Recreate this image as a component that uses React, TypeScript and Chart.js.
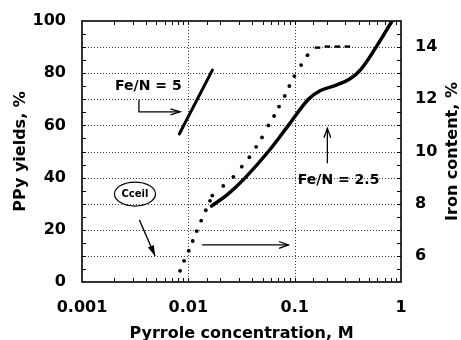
import React, { useEffect, useRef } from "react";
import { Chart, registerables } from "chart.js";

Chart.register(...registerables);

// ---------- data ----------
const xTickLabels = ["0.001", "0.01", "0.1", "1"];
const yLeftTickLabels = ["0", "20", "40", "60", "80", "100"];
const yRightTickLabels = ["6", "8", "10", "12", "14"];
const xGridValues = [0.01, 0.1];
const yGridValues = [10, 20, 30, 40, 50, 60, 70, 80, 90];

// Fe/N = 5 (PPy yield, %)
const feN5Conc = [0.00822, 0.01683];
const feN5Yield = [56.7, 81.2];

// Fe/N = 2.5 (PPy yield, %)
const feN25Conc = [0.0165, 0.0236, 0.0342, 0.0566, 0.0873, 0.1346, 0.1734, 0.249, 0.332, 0.42, 0.583, 0.824];
const feN25Yield = [29.1, 33.7, 39.9, 50.0, 60.0, 70.0, 73.3, 75.5, 77.9, 81.5, 90.0, 100.0];

// Iron content (%), dotted curve
const ironConc = [0.00836, 0.00912, 0.0101, 0.011, 0.012, 0.0132, 0.0146, 0.016, 0.0168, 0.0213, 0.0265, 0.0318, 0.0375, 0.0434, 0.0493, 0.0566, 0.064, 0.0713, 0.0807, 0.0891, 0.0993, 0.115, 0.132, 0.164, 0.203, 0.252, 0.313];
const ironContent = [5.43, 5.81, 6.2, 6.57, 6.95, 7.35, 7.75, 8.11, 8.31, 8.68, 9.03, 9.42, 9.78, 10.18, 10.54, 11.0, 11.36, 11.72, 12.13, 12.51, 12.89, 13.31, 13.69, 13.98, 14.02, 14.02, 14.02];

// ---------- annotations (in data units of x / left y) ----------
const labelFeN5 = { text: "Fe/N = 5", x: 0.00421, y: 74.8 };
const arrowFeN5 = [[0.00343, 69.7], [0.00343, 65.2], [0.00836, 65.2]];
const labelCceil = { text: "Cceil", x: 0.00315, y: 33.7 };
const arrowCceil = [[0.00346, 23.8], [0.00487, 10.0]];
const arrowIron = [[0.01346, 14.2], [0.0873, 14.2]];
const arrowFeN25 = [[0.203, 45.5], [0.203, 58.9]];
const labelFeN25 = { text: "Fe/N = 2.5", x: 0.259, y: 39.1 };

const xTitle = "Pyrrole concentration, M";
const yTitle = "PPy yields, %";
const y2Title = "Iron content, %";

const FAMILY = '"DejaVu Sans", sans-serif';

function drawArrow(ctx: CanvasRenderingContext2D, pts: number[][], filled: boolean, len = 10, half = 0.38) {
  ctx.beginPath();
  ctx.moveTo(pts[0][0], pts[0][1]);
  for (let i = 1; i < pts.length; i++) ctx.lineTo(pts[i][0], pts[i][1]);
  ctx.stroke();
  const [x1, y1] = pts[pts.length - 2];
  const [x2, y2] = pts[pts.length - 1];
  const ang = Math.atan2(y2 - y1, x2 - x1);
  const a1 = ang + Math.PI - half;
  const a2 = ang + Math.PI + half;
  ctx.beginPath();
  ctx.moveTo(x2 + len * Math.cos(a1), y2 + len * Math.sin(a1));
  ctx.lineTo(x2, y2);
  ctx.lineTo(x2 + len * Math.cos(a2), y2 + len * Math.sin(a2));
  if (filled) {
    ctx.closePath();
    ctx.fill();
  } else {
    ctx.stroke();
  }
}

const decor = {
  id: "decor",
  beforeDatasetsDraw(chart: any) {
    const { ctx, chartArea: a, scales } = chart;
    const x = scales.x;
    const y = scales.y;
    ctx.save();
    ctx.strokeStyle = "#3a3a3a";
    ctx.lineWidth = 1;
    ctx.setLineDash([1, 2]);
    for (const v of yGridValues) {
      const py = Math.round(y.getPixelForValue(v)) + 0.5;
      ctx.beginPath();
      ctx.moveTo(a.left, py);
      ctx.lineTo(a.right, py);
      ctx.stroke();
    }
    for (const v of xGridValues) {
      const px = Math.round(x.getPixelForValue(v)) + 0.5;
      ctx.beginPath();
      ctx.moveTo(px, a.top);
      ctx.lineTo(px, a.bottom);
      ctx.stroke();
    }
    ctx.restore();
  },
  afterDraw(chart: any) {
    const { ctx, chartArea: a, scales } = chart;
    const x = scales.x;
    const y = scales.y;
    const y2 = scales.y2;
    const P = (p: number[]) => [x.getPixelForValue(p[0]), y.getPixelForValue(p[1])];
    ctx.save();
    ctx.setLineDash([]);
    ctx.strokeStyle = "#000";
    ctx.fillStyle = "#000";

    // inward tick marks
    ctx.lineWidth = 1;
    for (const t of x.ticks) {
      const px = Math.round(x.getPixelForValue(t.value)) + 0.5;
      if (px <= a.left + 1 || px >= a.right - 1) continue;
      ctx.beginPath();
      ctx.moveTo(px, a.bottom);
      ctx.lineTo(px, a.bottom - 4);
      ctx.moveTo(px, a.top);
      ctx.lineTo(px, a.top + 4);
      ctx.stroke();
    }
    for (const t of y.ticks) {
      const py = Math.round(y.getPixelForValue(t.value)) + 0.5;
      if (py <= a.top + 1 || py >= a.bottom - 1) continue;
      ctx.beginPath();
      ctx.moveTo(a.left, py);
      ctx.lineTo(a.left + 4, py);
      ctx.stroke();
    }
    for (const t of y2.ticks) {
      const py = Math.round(y2.getPixelForValue(t.value)) + 0.5;
      if (py <= a.top + 1 || py >= a.bottom - 1) continue;
      ctx.beginPath();
      ctx.moveTo(a.right, py);
      ctx.lineTo(a.right - 4, py);
      ctx.stroke();
    }

    // frame
    ctx.lineWidth = 1.6;
    ctx.strokeRect(a.left, a.top, a.right - a.left, a.bottom - a.top);

    // axis titles
    ctx.font = `bold 16px ${FAMILY}`;
    ctx.textAlign = "center";
    ctx.textBaseline = "alphabetic";
    ctx.fillText(xTitle, (a.left + a.right) / 2, 338);
    ctx.save();
    ctx.translate(25, (a.top + a.bottom) / 2);
    ctx.rotate(-Math.PI / 2);
    ctx.fillText(yTitle, 0, 0);
    ctx.restore();
    ctx.save();
    ctx.translate(457, (a.top + a.bottom) / 2);
    ctx.rotate(-Math.PI / 2);
    ctx.fillText(y2Title, 0, 0);
    ctx.restore();

    // annotations
    ctx.font = `bold 14px ${FAMILY}`;
    ctx.textBaseline = "middle";
    let p = P([labelFeN5.x, labelFeN5.y]);
    ctx.fillText(labelFeN5.text, p[0], p[1]);
    p = P([labelFeN25.x, labelFeN25.y]);
    ctx.fillText(labelFeN25.text, p[0], p[1]);

    ctx.lineWidth = 1.3;
    drawArrow(ctx, arrowFeN5.map(P), false, 10, 0.3);
    drawArrow(ctx, arrowCceil.map(P), true, 11, 0.3);
    drawArrow(ctx, arrowIron.map(P), false, 10, 0.35);
    drawArrow(ctx, arrowFeN25.map(P), false, 10, 0.35);

    p = P([labelCceil.x, labelCceil.y]);
    ctx.lineWidth = 1.2;
    ctx.beginPath();
    ctx.ellipse(p[0], p[1], 20.5, 12, 0, 0, Math.PI * 2);
    ctx.stroke();
    ctx.font = `bold 10px ${FAMILY}`;
    ctx.fillText(labelCceil.text, p[0], p[1]);

    ctx.restore();
  },
};

export default function App() {
  const ref = useRef<HTMLCanvasElement>(null);

  useEffect(() => {
    const canvas = ref.current;
    if (!canvas) return;
    const nDots = ironConc.length;
    const dotStyle = ironConc.map((_, i) => (i >= nDots - 4 ? "line" : "circle"));
    const dotRadius = ironConc.map((_, i) => (i >= nDots - 4 ? 2.8 : 1.9));
    const dotBorder = ironConc.map((_, i) => (i >= nDots - 4 ? 2.4 : 0));

    const chart = new Chart(canvas, {
      type: "scatter",
      data: {
        datasets: [
          {
            label: "Fe/N = 5",
            data: feN5Conc.map((c, i) => ({ x: c, y: feN5Yield[i] })),
            showLine: true,
            borderColor: "#000",
            borderWidth: 3,
            pointRadius: 0,
            borderCapStyle: "round",
            yAxisID: "y",
          },
          {
            label: "Fe/N = 2.5",
            data: feN25Conc.map((c, i) => ({ x: c, y: feN25Yield[i] })),
            showLine: true,
            borderColor: "#000",
            borderWidth: 3.5,
            pointRadius: 0,
            tension: 0.4,
            borderCapStyle: "round",
            yAxisID: "y",
          },
          {
            label: "Iron content",
            data: ironConc.map((c, i) => ({ x: c, y: ironContent[i] })),
            showLine: false,
            pointStyle: dotStyle as any,
            pointRadius: dotRadius,
            pointBorderWidth: dotBorder,
            pointBackgroundColor: "#000",
            pointBorderColor: "#000",
            yAxisID: "y2",
          },
        ] as any,
      },
      options: {
        responsive: false,
        animation: false,
        devicePixelRatio: 1,
        layout: { padding: { top: 21, left: 0, right: 0, bottom: 0 } },
        plugins: { legend: { display: false }, tooltip: { enabled: false } },
        scales: {
          x: {
            type: "logarithmic",
            position: "bottom",
            min: 0.001,
            max: 1,
            grid: { display: false },
            border: { display: false },
            afterFit: (s: any) => {
              s.height = 58;
            },
            ticks: {
              autoSkip: false,
              maxRotation: 0,
              minRotation: 0,
              padding: 8,
              color: "#000",
              font: { family: FAMILY, size: 16, weight: "bold" },
              callback: (v: any) => {
                const m = xTickLabels.find((l) => Math.abs(Number(v) / parseFloat(l) - 1) < 1e-6);
                return m ?? "";
              },
            },
          },
          y: {
            type: "linear",
            position: "left",
            min: 0,
            max: 100,
            grid: { display: false },
            border: { display: false },
            afterFit: (s: any) => {
              s.width = 82;
            },
            ticks: {
              stepSize: 5,
              autoSkip: false,
              padding: 8,
              color: "#000",
              font: { family: FAMILY, size: 16, weight: "bold" },
              callback: (v: any) => (yLeftTickLabels.includes(String(v)) ? String(v) : ""),
            },
          },
          y2: {
            type: "linear",
            position: "right",
            min: 5,
            max: 15,
            grid: { display: false },
            border: { display: false },
            afterFit: (s: any) => {
              s.width = 60;
            },
            ticks: {
              stepSize: 0.5,
              autoSkip: false,
              padding: 6,
              color: "#000",
              font: { family: FAMILY, size: 16, weight: "bold" },
              callback: (v: any) => (yRightTickLabels.includes(String(v)) ? String(v) : ""),
            },
          },
        },
      } as any,
      plugins: [decor],
    });
    return () => chart.destroy();
  }, []);

  return (
    <div style={{ position: "absolute", left: 0, top: 0, width: 461, height: 340, background: "#fff" }}>
      <canvas ref={ref} width={461} height={340} style={{ display: "block", width: 461, height: 340 }} />
    </div>
  );
}
